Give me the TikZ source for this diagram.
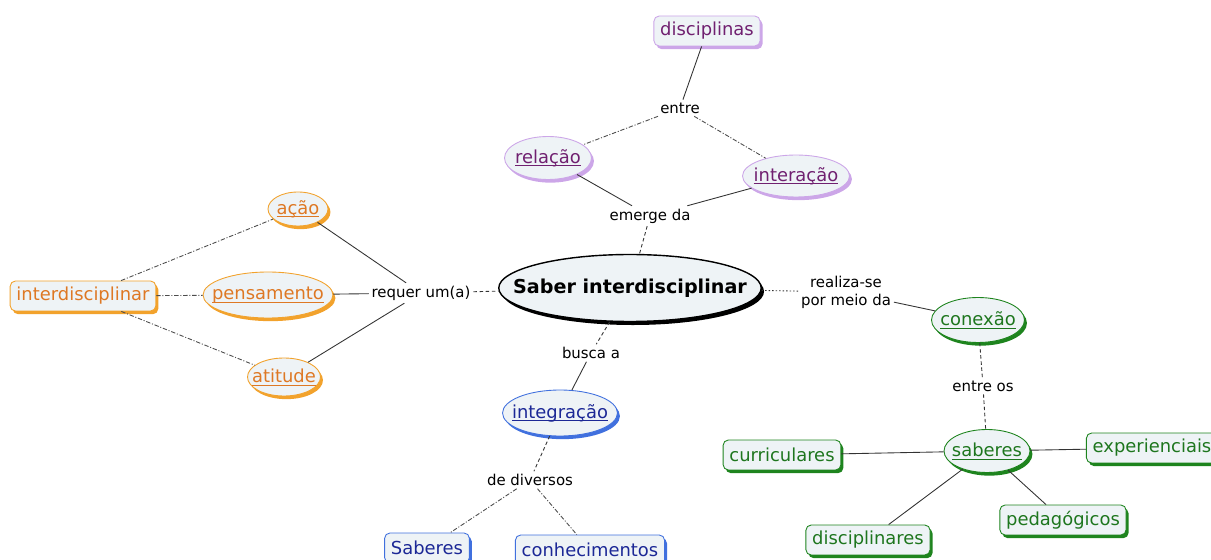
\documentclass[tikz,border=0pt]{standalone}
\usepackage{fontspec}
\setmainfont{DejaVu Sans}
\usetikzlibrary{positioning,shapes.geometric,shadows}

\definecolor{cmfill}{RGB}{238,243,246}
\definecolor{orT}{RGB}{222,120,36}
\definecolor{orS}{RGB}{242,162,44}
\definecolor{puT}{RGB}{112,32,112}
\definecolor{puS}{RGB}{204,166,232}
\definecolor{blT}{RGB}{28,40,150}
\definecolor{blS}{RGB}{64,112,222}
\definecolor{grT}{RGB}{30,118,30}
\definecolor{grS}{RGB}{30,132,30}

% underline close to the baseline
\newcommand\culine[1]{\setbox0\hbox{#1}\rlap{\rule[-1.7pt]{\wd0}{0.45pt}}\box0}

\tikzset{
  cbox/.style={rectangle,rounded corners=3pt,fill=cmfill,line width=0.5pt,
    inner xsep=3.6pt,minimum height=0.6cm,font=\fontsize{10.2}{12}\selectfont},
  cell/.style={ellipse,fill=cmfill,line width=0.5pt,inner xsep=-3cm,inner ysep=-1cm,
    font=\fontsize{10.2}{12}\selectfont},
  orangec/.style={draw=orS,text=orT,drop shadow={fill=orS,opacity=1,shadow xshift=1.4pt,shadow yshift=-1.8pt}},
  purplec/.style={draw=puS,text=puT,drop shadow={fill=puS,opacity=1,shadow xshift=1.4pt,shadow yshift=-1.8pt}},
  bluec/.style={draw=blS,text=blT,drop shadow={fill=blS,opacity=1,shadow xshift=1.4pt,shadow yshift=-1.8pt}},
  greenc/.style={draw=grS,text=grT,drop shadow={fill=grS,opacity=1,shadow xshift=1.4pt,shadow yshift=-1.8pt}},
  phrase/.style={font=\fontsize{8.5}{10.2}\selectfont,inner sep=1.5pt,align=center},
  link/.style={draw=black!80,line width=0.5pt},
  dlink/.style={link,dash pattern=on 2pt off 1.5pt},
  ddlink/.style={link,draw=black!70,dash pattern=on 2.5pt off 1pt on 0.6pt off 1pt},
  olink/.style={link,dash pattern=on 0.8pt off 1.2pt}
}

\begin{document}
\begin{tikzpicture}[x=0.02cm,y=-0.02cm]
    \useasboundingbox (0,0) rectangle (1211,560);

    % main concept
    \node[ellipse,fill=cmfill,draw=black,line width=0.8pt,inner xsep=-3cm,inner ysep=-1cm,
      minimum width=5.25cm,minimum height=1.34cm,
      drop shadow={fill=black,opacity=1,shadow xshift=1.6pt,shadow yshift=-2pt},
      font=\fontsize{10.9}{13}\selectfont\bfseries] (saber) at (630,288) {Saber interdisciplinar};

    % top
    \node[cbox,purplec] (disc) at (707,31) {disciplinas};
    \node[phrase] (entre) at (680,108) {entre};
    \node[cell,purplec,minimum width=1.74cm,minimum height=0.86cm] (relacao) at (548,158) {\culine{relação}};
    \node[cell,purplec,minimum width=2.14cm,minimum height=0.84cm] (interacao) at (796,176) {\culine{interação}};
    \node[phrase] (emerge) at (650,216) {emerge da};

    % left
    \node[cbox,orangec] (interd) at (83,296) {interdisciplinar};
    \node[cell,orangec,minimum width=1.2cm,minimum height=0.68cm] (acao) at (298,209) {\culine{ação}};
    \node[cell,orangec,minimum width=2.6cm,minimum height=0.92cm] (pens) at (268,295) {\culine{pensamento}};
    \node[cell,orangec,minimum width=1.46cm,minimum height=0.76cm] (atit) at (284,377) {\culine{atitude}};
    \node[phrase] (req) at (421,293) {requer um(a)};

    % bottom
    \node[phrase] (busca) at (591,353) {busca a};
    \node[cell,bluec,minimum width=2.3cm,minimum height=0.92cm] (integ) at (560,413) {\culine{integração}};
    \node[phrase] (diversos) at (530,480) {de diversos};
    \node[cbox,bluec] (sabb) at (427,548) {Saberes};
    \node[cbox,bluec] (conhec) at (590,550) {conhecimentos};

    % right
    \node[phrase] (realiza) at (846,292) {realiza-se\\por meio da};
    \node[cell,greenc,minimum width=1.86cm,minimum height=0.9cm] (conexao) at (978,320) {\culine{conexão}};
    \node[phrase] (entreos) at (983,386) {entre os};
    \node[cell,greenc,minimum width=1.72cm,minimum height=0.86cm] (sabg) at (987,451) {\culine{saberes}};
    \node[cbox,greenc] (curric) at (782,455) {curriculares};
    \node[cbox,greenc] (exper) at (1152,448) {experienciais};
    \node[cbox,greenc] (discpl) at (868,540) {disciplinares};
    \node[cbox,greenc] (pedag) at (1063,520) {pedagógicos};

    \foreach \from/\to in {disc/entre,relacao/emerge,interacao/emerge,acao/req,pens/req,atit/req,busca/integ,realiza/conexao,sabg/curric,sabg/exper,sabg/discpl,sabg/pedag}
    \draw[link] (\from)--(\to);

    \foreach \from/\to in {emerge/saber,req/saber,saber/busca,integ/diversos,conexao/entreos,entreos/sabg}
    \draw[dlink] (\from)--(\to);

    \foreach \from/\to in {entre/relacao,entre/interacao,interd/acao,interd/pens,interd/atit,diversos/sabb,diversos/conhec}
    \draw[ddlink] (\from)--(\to);

    \draw[olink] (saber)--(realiza);
\end{tikzpicture}
\end{document}
